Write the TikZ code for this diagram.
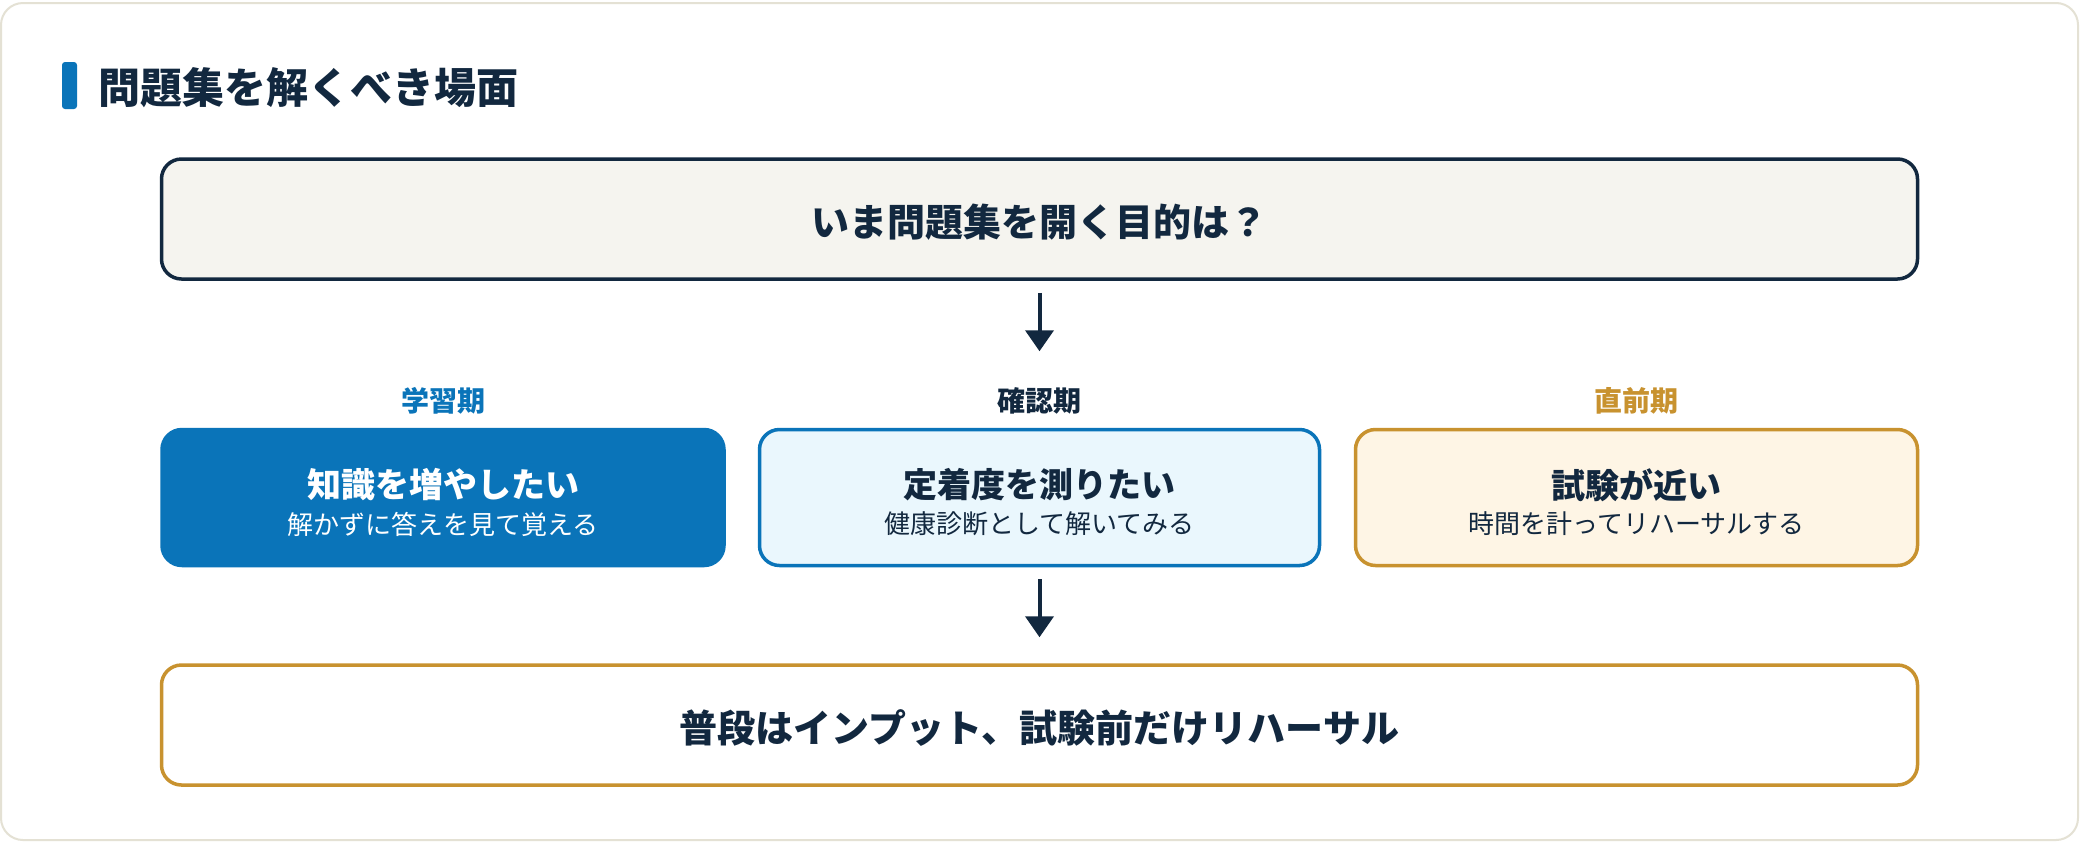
\documentclass[tikz,border=0pt]{standalone}
\usepackage{fontspec}
\setmainfont{Noto Sans CJK JP}
\usetikzlibrary{arrows.meta}
\definecolor{navy}{HTML}{12283F}
\definecolor{cblue}{HTML}{0A74B9}
\definecolor{cgold}{HTML}{C8922F}
\definecolor{qfill}{HTML}{F5F4EF}
\definecolor{bfill}{HTML}{EAF7FD}
\definecolor{gfill}{HTML}{FEF5E5}
\definecolor{cardline}{HTML}{E4E1D4}
\tikzset{
  stagebox/.style={rectangle, rounded corners=10pt, line width=1.75pt, inner sep=0pt},
  qbox/.style={stagebox, draw=navy, fill=qfill, minimum width=878pt, minimum height=60pt},
  endbox/.style={stagebox, draw=cgold, fill=white, minimum width=878pt, minimum height=60pt},
  box1/.style={stagebox, draw=cblue, fill=cblue, minimum width=281pt, minimum height=68pt},
  box2/.style={stagebox, draw=cblue, fill=bfill, minimum width=280pt, minimum height=68pt},
  box3/.style={stagebox, draw=cgold, fill=gfill, minimum width=281pt, minimum height=68pt},
  stagelabel/.style={inner sep=0pt, font=\fontsize{14pt}{16pt}\selectfont\bfseries},
  maintext/.style={inner sep=0pt, font=\fontsize{17pt}{20pt}\selectfont\bfseries},
  subtext/.style={inner sep=0pt, font=\fontsize{13pt}{15pt}\selectfont},
  bigtext/.style={inner sep=0pt, text=navy, font=\fontsize{19pt}{22pt}\selectfont\bfseries},
  flowarrow/.style={draw=navy, line width=2pt, -{Triangle[width=14pt,length=10.5pt]}},
}
\begin{document}
\begin{tikzpicture}[x=0.5pt,y=-0.5pt]
\useasboundingbox (0,0) rectangle (2080,842);
\fill[white] (0,0) rectangle (2080,842);
% card
\draw[cardline, line width=1pt, fill=white, rounded corners=11pt] (1,3) rectangle (2078,840);
% title
\fill[cblue, rounded corners=1.5pt] (62,62) rectangle (77,109);
\node[anchor=west, inner sep=0pt, text=navy, font=\fontsize{21pt}{24pt}\selectfont\bfseries] (title) at (98,88) {問題集を解くべき場面};
% question
\node[qbox] (q) at (1039.5,219) {};
\node[bigtext] (qt) at (1039.5,222) {いま問題集を開く目的は？};
% stage labels
\node[stagelabel, text=cblue] (l1) at (443,401) {学習期};
\node[stagelabel, text=navy] (l2) at (1039.5,401) {確認期};
\node[stagelabel, text=cgold] (l3) at (1636.5,401) {直前期};
% stage boxes
\node[box1] (b1) at (443,497.5) {};
\node[maintext, text=white] (b1t) at (443,485) {知識を増やしたい};
\node[subtext, text=white] (b1s) at (443,524) {解かずに答えを見て覚える};
\node[box2] (b2) at (1039.5,497.5) {};
\node[maintext, text=navy] (b2t) at (1039.5,485) {定着度を測りたい};
\node[subtext, text=navy] (b2s) at (1039.5,524) {健康診断として解いてみる};
\node[box3] (b3) at (1636.5,497.5) {};
\node[maintext, text=navy] (b3t) at (1636.5,485) {試験が近い};
\node[subtext, text=navy] (b3s) at (1636.5,524) {時間を計ってリハーサルする};
% conclusion
\node[endbox] (e) at (1039.5,725) {};
\node[bigtext] (et) at (1039.5,728) {普段はインプット、試験前だけリハーサル};
% arrows
\draw[flowarrow, shorten <=6pt, shorten >=18pt] (q.south) -- (l2.north);
\draw[flowarrow, shorten <=6pt, shorten >=13pt] (b2.south) -- (e.north);
\end{tikzpicture}
\end{document}
